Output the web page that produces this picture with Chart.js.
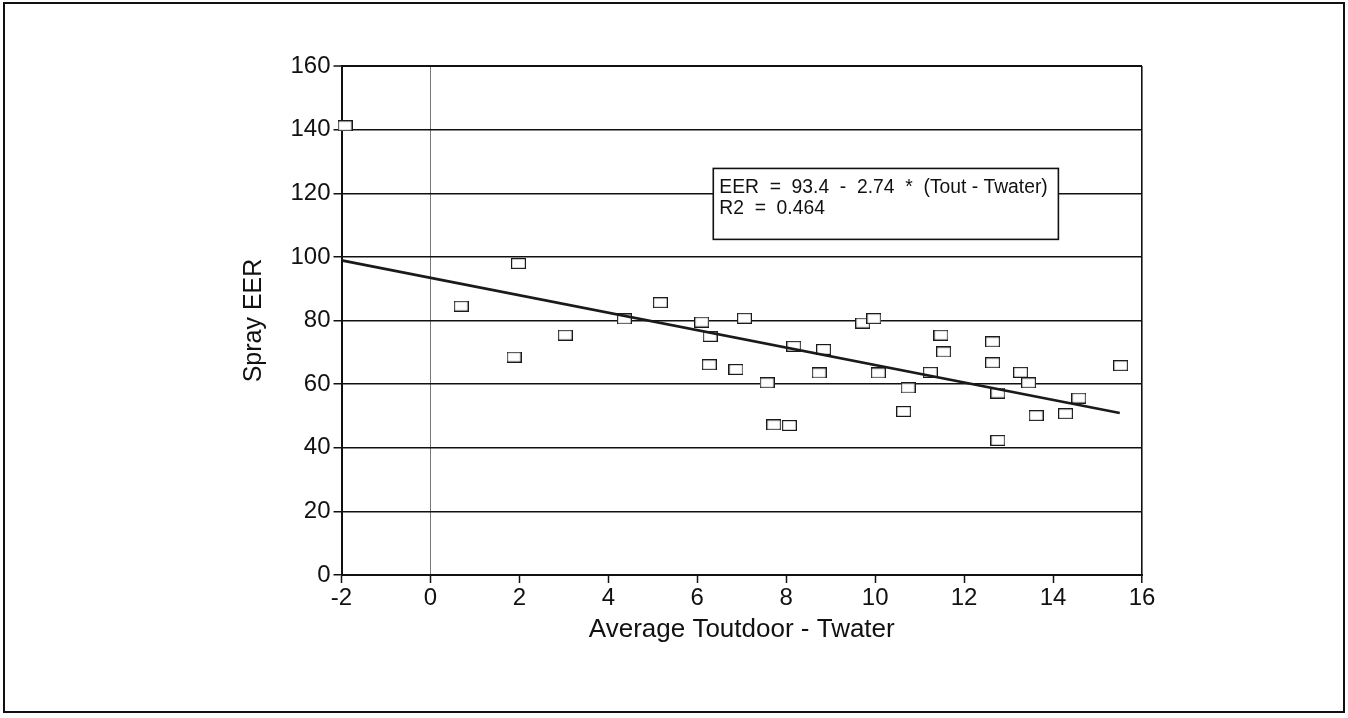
<!DOCTYPE html>
<html>
<head>
<meta charset="utf-8">
<script src="https://cdn.jsdelivr.net/npm/chart.js@4/dist/chart.umd.min.js"></script>
<style>
html,body{margin:0;padding:0;background:#fff;}
#wrap{width:1348px;height:718px;position:relative;}
</style>
</head>
<body>
<div id="wrap"><canvas id="c" width="1348" height="718"></canvas></div>
<script>
// ---- data ----
const tempDiff = [-1.92, 0.69, 1.88, 1.98, 3.03, 4.36, 5.17, 6.10, 6.29, 6.27, 6.87, 7.06, 7.57, 7.72, 8.07, 8.17, 8.74, 8.84, 9.72, 9.97, 10.07, 10.64, 10.74, 11.24, 11.48, 11.54, 12.64, 12.64, 12.76, 12.76, 13.27, 13.45, 13.62, 14.28, 14.58, 15.52];
const sprayEER = [141.2, 84.5, 68.5, 97.9, 75.4, 80.5, 85.6, 79.5, 75.0, 66.1, 64.6, 80.7, 60.4, 47.2, 47.0, 71.9, 63.5, 70.9, 79.2, 80.6, 63.5, 51.4, 58.8, 63.7, 75.4, 70.1, 73.3, 66.7, 57.2, 42.3, 63.7, 60.4, 50.1, 50.7, 55.6, 65.8];
const fitX = [-2, 15.5];
const fitY = [98.9, 50.9];
const xTicks = [-2, 0, 2, 4, 6, 8, 10, 12, 14, 16];
const yTicks = [0, 20, 40, 60, 80, 100, 120, 140, 160];
const annotationLines = ['EER  =  93.4  -  2.74  *  (Tout - Twater)', 'R2  =  0.464'];
const annotationBox = {x0: 6.36, x1: 14.12, y0: 127.8, y1: 105.5};
const xTitle = 'Average Toutdoor - Twater';
const yTitle = 'Spray EER';

// ---- point marker: small open rectangle ----
const marker = document.createElement('canvas');
marker.width = 15; marker.height = 11;
(function(){
  const g = marker.getContext('2d');
  g.fillStyle = '#fff';
  g.fillRect(0, 0, 15, 11);
  g.strokeStyle = '#1a1a1a';
  g.lineWidth = 1.2;
  g.strokeRect(0.6, 0.6, 13.8, 9.8);
})();

const FONT = "'Liberation Sans', Arial, Helvetica, sans-serif";

const scatterData = tempDiff.map((x, i) => ({x: x, y: sprayEER[i]}));
const fitData = fitX.map((x, i) => ({x: x, y: fitY[i]}));

const framePlugin = {
  id: 'frame',
  beforeDraw(chart) {
    const ctx = chart.ctx;
    ctx.save();
    ctx.fillStyle = '#fff';
    ctx.fillRect(0, 0, chart.width, chart.height);
    ctx.restore();
  },
  afterDraw(chart) {
    const ctx = chart.ctx;
    const xs = chart.scales.x, ys = chart.scales.y;
    ctx.save();
    // annotation box
    const L = xs.getPixelForValue(annotationBox.x0), R = xs.getPixelForValue(annotationBox.x1);
    const T = ys.getPixelForValue(annotationBox.y0), B = ys.getPixelForValue(annotationBox.y1);
    ctx.fillStyle = '#fff';
    ctx.fillRect(L, T, R - L, B - T);
    ctx.strokeStyle = '#111';
    ctx.lineWidth = 1.6;
    ctx.strokeRect(L, T, R - L, B - T);
    ctx.fillStyle = '#111';
    ctx.font = '19.3px ' + FONT;
    ctx.textBaseline = 'middle';
    ctx.textAlign = 'left';
    ctx.fillText(annotationLines[0], L + 6, T + 19.5);
    ctx.fillText(annotationLines[1], L + 6, T + 40);
    // outer frame
    ctx.strokeStyle = '#111';
    ctx.lineWidth = 2;
    ctx.strokeRect(4, 3, chart.width - 8, chart.height - 9);
    ctx.restore();
  }
};

new Chart(document.getElementById('c'), {
  type: 'scatter',
  data: {
    datasets: [
      {
        label: 'fit',
        type: 'line',
        data: fitData,
        borderColor: '#1a1a1a',
        borderWidth: 2.6,
        pointRadius: 0,
        fill: false,
        showLine: true,
        order: 0
      },
      {
        label: 'Spray EER',
        data: scatterData,
        pointStyle: marker,
        pointRadius: 7,
        clip: false,
        order: 1
      }
    ]
  },
  options: {
    responsive: false,
    animation: false,
    events: [],
    layout: {padding: {left: 230, right: 206, top: 66, bottom: 73}},
    plugins: {legend: {display: false}, tooltip: {enabled: false}},
    scales: {
      x: {
        type: 'linear',
        min: -2, max: 16,
        afterBuildTicks(scale) { scale.ticks = xTicks.map(v => ({value: v})); },
        afterFit(scale) { scale.height = 70; },
        ticks: {
          color: '#111',
          font: {family: FONT, size: 24},
          padding: 1,
          maxRotation: 0,
          autoSkip: false,
          callback: v => String(v)
        },
        grid: {
          color: ctx => (ctx.tick && ctx.tick.value === 0) ? '#777' : (ctx.tick && ctx.tick.value === 16 ? '#111' : 'rgba(0,0,0,0)'),
          lineWidth: ctx => (ctx.tick && ctx.tick.value === 16) ? 1.6 : 1,
          tickColor: '#111',
          tickLength: 8,
          tickWidth: 1.5,
          drawTicks: true
        },
        border: {display: true, color: '#111', width: 2},
        title: {
          display: true,
          text: xTitle,
          color: '#111',
          font: {family: FONT, size: 26},
          padding: {top: 0, bottom: 0}
        }
      },
      y: {
        type: 'linear',
        min: 0, max: 160,
        afterBuildTicks(scale) { scale.ticks = yTicks.map(v => ({value: v})); },
        afterFit(scale) { scale.width = 111.5; },
        ticks: {
          color: '#111',
          font: {family: FONT, size: 24},
          padding: 3,
          callback: v => String(v)
        },
        grid: {
          color: '#111',
          lineWidth: ctx => (ctx.tick && ctx.tick.value === 160) ? 2 : 1.5,
          tickColor: '#111',
          tickLength: 8,
          tickWidth: 1.5
        },
        border: {display: true, color: '#111', width: 2},
        title: {
          display: true,
          text: yTitle,
          color: '#111',
          font: {family: FONT, size: 25},
          padding: {top: 9, bottom: 0}
        }
      }
    }
  },
  plugins: [framePlugin]
});
</script>
</body>
</html>
